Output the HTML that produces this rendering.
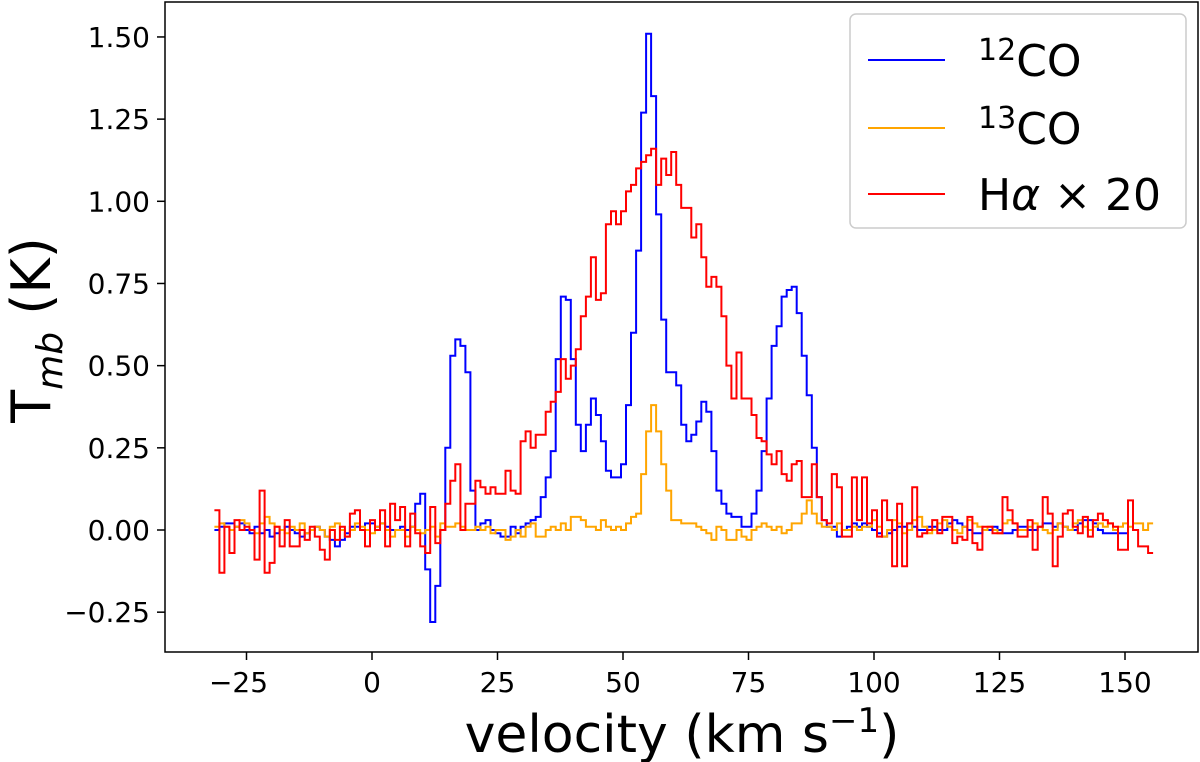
<!DOCTYPE html>
<html><head><meta charset="utf-8"><style>
body{margin:0;background:#fff;}
svg{display:block;font-family:"DejaVu Sans","Liberation Sans",sans-serif;}
</style></head><body>
<svg id="chart" width="1200" height="762" viewBox="0 0 1200 762">
<rect x="165" y="2" width="1033" height="650" fill="none" stroke="#000" stroke-width="1.5"/>
<g id="ticks"></g>
<g id="series"></g>
<text x="682" y="752" font-size="52" text-anchor="middle">velocity (km s<tspan font-size="34" dy="-20">−1</tspan><tspan dy="20">)</tspan></text>
<text transform="translate(50,330) rotate(-90)" font-size="54" text-anchor="middle">T<tspan font-size="36" font-style="italic" dy="12">mb</tspan><tspan dy="-12"> (K)</tspan></text>
<g>
<rect x="850" y="14" width="336" height="214" rx="6" fill="#fff" stroke="#ccc" stroke-width="1.5"/>
<line x1="868" y1="60" x2="945" y2="60" stroke="blue" stroke-width="2"/>
<text x="978" y="76" font-size="44"><tspan font-size="30" dy="-16">12</tspan><tspan dy="16">CO</tspan></text>
<line x1="868" y1="128" x2="945" y2="128" stroke="orange" stroke-width="2"/>
<text x="978" y="144" font-size="44"><tspan font-size="30" dy="-16">13</tspan><tspan dy="16">CO</tspan></text>
<line x1="868" y1="194" x2="945" y2="194" stroke="red" stroke-width="2"/>
<text x="978" y="210" font-size="44">H<tspan font-style="italic">α</tspan> × 20</text>
</g>
</svg>
<script>
const xTicks=[-25,0,25,50,75,100,125,150];
const yTicks=[-0.25,0,0.25,0.5,0.75,1.0,1.25,1.5];
const yTickLabels=["−0.25","0.00","0.25","0.50","0.75","1.00","1.25","1.50"];
const binStart=-31.4;
const binWidth=1.0;
const co12=[0.0,0.01,0.02,0.02,0.01,0.02,0.0,-0.01,0.01,-0.01,0.0,-0.02,-0.01,0.0,0.01,0.0,-0.01,-0.02,-0.01,0.0,0.01,0.0,-0.02,-0.03,-0.05,-0.03,-0.01,0.01,0.01,0.0,0.02,0.02,0.01,0.02,0.01,0.0,0.0,
0.01,0.0,0.01,0.08,0.11,-0.12,-0.28,-0.17,0.0,0.25,0.53,0.58,0.56,0.48,0.12,0.0,0.02,0.03,0.0,-0.01,-0.02,-0.02,0.01,-0.01,0.01,0.02,0.03,0.04,0.1,0.16,0.24,0.52,0.71,0.70,0.52,0.32,0.24,0.32,0.40,0.35,0.27,0.18,0.16,0.16,0.2,0.38,0.60,0.85,1.27,1.51,1.32,0.96,0.64,0.48,0.48,0.44,0.32,0.27,0.29,0.33,0.39,0.36,0.24,0.12,0.08,0.05,0.04,0.04,0.01,0.01,0.05,0.12,0.24,0.40,0.56,0.62,0.71,0.73,0.74,0.66,0.53,0.41,0.25,0.10,0.03,0.01,0.01,-0.02,
0.0,0.01,0.02,0.01,0.02,0.01,0.0,-0.01,-0.02,-0.01,0.0,0.01,0.01,0.02,0.01,0.0,0.0,0.01,0.01,0.0,0.0,0.02,0.03,0.02,0.01,0.0,-0.01,-0.01,0.0,0.0,0.01,0.0,-0.01,-0.01,0.0,0.01,0.01,0.0,0.0,0.01,0.02,0.02,0.01,0.02,0.01,0.0,0.0,0.02,0.03,0.03,0.02,0.0,-0.01,-0.01,-0.01,-0.01,-0.01];
const co13=[0.01,0.02,0.01,0.0,0.01,0.03,0.02,0.0,-0.01,0.02,0.04,0.02,0.01,0.0,-0.01,0.01,0.0,0.02,-0.01,0.0,0.01,0.0,-0.02,0.01,0.02,0.0,-0.02,0.0,0.02,0.01,0.0,-0.01,0.01,0.02,0.0,-0.02,0.0,
0.0,-0.02,0.01,0.0,-0.01,0.0,0.01,-0.02,0.02,0.01,0.01,0.02,0.01,0.0,0.0,0.01,0.0,0.01,-0.01,0.0,0.0,-0.03,-0.02,0.0,-0.02,0.01,0.02,-0.02,-0.02,0.0,0.01,0.0,0.02,0.0,0.04,0.04,0.03,0.01,0.01,0.0,0.03,0.01,0.0,0.01,0.0,0.02,0.04,0.05,0.17,0.30,0.38,0.30,0.20,0.12,0.03,0.03,0.02,0.02,0.02,0.01,0.0,-0.01,-0.03,0.01,0.0,-0.03,-0.03,0.0,-0.02,-0.03,0.0,0.01,0.02,0.01,0.0,0.01,-0.01,0.0,0.02,0.02,0.05,0.09,0.05,0.02,0.01,0.01,0.0,0.02,0.0,0.0,0.01,0.0,0.01,
0.01,0.03,0.01,-0.02,0.0,0.03,0.02,-0.01,0.0,0.03,0.04,0.01,-0.01,0.0,0.02,0.03,0.01,0.0,-0.01,0.01,0.03,0.02,0.01,0.0,0.01,0.0,-0.01,0.02,0.03,0.02,0.0,0.0,0.01,0.02,0.01,0.0,-0.01,0.0,0.02,0.01,0.0,0.02,0.03,0.01,0.0,0.01,0.02,0.01,0.02,0.0,0.01,0.02,0.01,0.02,0.02,0.0,0.02];
const halpha=[0.06,-0.13,0.01,-0.07,0.03,0.0,0.01,0.0,-0.09,0.12,-0.13,-0.1,0.01,-0.05,0.03,-0.05,-0.05,0.0,-0.03,0.01,-0.02,-0.06,-0.09,0.0,-0.03,0.01,-0.02,0.05,0.06,0.0,-0.05,0.03,0.0,0.06,-0.05,0.08,0.03,
0.07,-0.05,0.05,-0.01,-0.05,-0.07,0.07,-0.04,0.0,0.08,0.15,0.2,0.0,0.08,0.08,0.15,0.13,0.11,0.13,0.11,0.11,0.18,0.12,0.11,0.27,0.3,0.25,0.29,0.29,0.36,0.39,0.42,0.52,0.46,0.50,0.55,0.65,0.71,0.83,0.70,0.72,0.93,0.97,0.93,0.97,1.03,1.05,1.1,1.12,1.14,1.16,1.05,1.13,1.08,1.15,1.05,0.98,0.98,0.89,0.93,0.83,0.74,0.77,0.74,0.65,0.5,0.4,0.54,0.4,0.4,0.35,0.28,0.27,0.23,0.2,0.24,0.17,0.15,0.2,0.21,0.1,0.1,0.2,0.1,0.03,0.02,0.17,0.13,-0.02,-0.02,
0.16,0.03,0.16,0.02,0.06,-0.02,0.09,0.03,-0.11,0.08,-0.11,0.02,0.13,-0.02,-0.01,0.0,0.03,-0.01,0.04,0.04,-0.04,-0.02,-0.03,0.04,-0.04,-0.06,0.01,0.01,-0.01,-0.01,0.1,0.06,0.02,-0.02,-0.02,0.03,-0.06,0.01,0.1,0.05,-0.11,-0.02,0.05,0.06,0.01,-0.01,0.04,-0.02,0.03,0.05,0.03,0.02,0.01,-0.06,-0.06,0.09,0.0,-0.05,-0.05,-0.07];

const NS="http://www.w3.org/2000/svg";
function xs(v){return 372+(v)*5.02;}
function ys(v){return 530-v*328.7;}
const tg=document.getElementById('ticks');
xTicks.forEach(t=>{
  const l=document.createElementNS(NS,'line');
  l.setAttribute('x1',xs(t));l.setAttribute('x2',xs(t));l.setAttribute('y1',652);l.setAttribute('y2',660);l.setAttribute('stroke','#000');l.setAttribute('stroke-width','1.5');
  
  
  tg.appendChild(l);
  const tx=document.createElementNS(NS,'text');
  tx.setAttribute('x',xs(t)-(t<0?8:0));tx.setAttribute('y',692);tx.setAttribute('font-size','28');tx.setAttribute('text-anchor','middle');
  tx.textContent=(t<0?'−':'')+Math.abs(t);
  
  
  tg.appendChild(tx);
});
yTicks.forEach((t,i)=>{
  const l=document.createElementNS(NS,'line');
  l.setAttribute('x1',157);l.setAttribute('x2',165);l.setAttribute('y1',ys(t));l.setAttribute('y2',ys(t));l.setAttribute('stroke','#000');l.setAttribute('stroke-width','1.5');
  
  
  tg.appendChild(l);
  const tx=document.createElementNS(NS,'text');
  tx.setAttribute('x',150);tx.setAttribute('y',ys(t)+10);tx.setAttribute('font-size','28');tx.setAttribute('text-anchor','end');
  tx.textContent=yTickLabels[i];
  
  
  tg.appendChild(tx);
});
function stepPath(arr){
  let d='';
  arr.forEach((v,i)=>{
    const x0=xs(binStart+i*binWidth),x1=xs(binStart+(i+1)*binWidth),y=ys(v);
    d+=(i===0?'M':'L')+x0.toFixed(1)+','+y.toFixed(1)+'L'+x1.toFixed(1)+','+y.toFixed(1);
  });
  return d;
}
const sg=document.getElementById('series');
[[co12,'blue','series-12co'],[co13,'orange','series-13co'],[halpha,'red','series-halpha']].forEach(s=>{
  const p=document.createElementNS(NS,'path');
  p.setAttribute('d',stepPath(s[0]));p.setAttribute('fill','none');p.setAttribute('stroke',s[1]);p.setAttribute('stroke-width','2');
  
  
  sg.appendChild(p);
});
</script>
</body></html>
